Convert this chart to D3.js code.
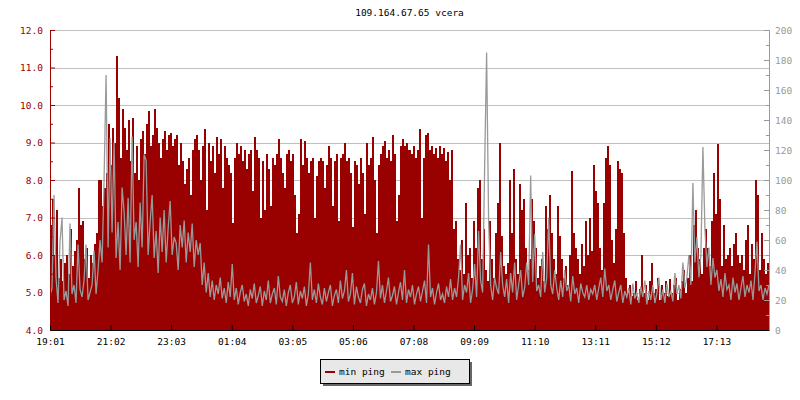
<!DOCTYPE html>
<html><head><meta charset="utf-8">
<script src="https://cdn.jsdelivr.net/npm/d3@7"></script>
<style>
body{margin:0;background:#fff}
svg{display:block}
text{font-family:"DejaVu Sans Mono",monospace;font-size:9.5px}
</style>
</head><body><svg id="c" width="800" height="400"></svg>
<script>
const title = "109.164.67.65 vcera";
const timeLabels = ["19:01","21:02","23:03","01:04","03:05","05:06","07:08","09:09","11:10","13:11","15:12","17:13"];
const tickMinutes = [0,121,242,363,484,605,726,847,968,1089,1210,1331];
const sampleStep = 4; // minutes between samples
const seriesNames = ["min ping","max ping"];
const seriesColors = ["#990000","#999999"];
const leftTicks = [4,5,6,7,8,9,10,11,12];
const leftMinor = [4.5,5.5,6.5,7.5,8.5,9.5,10.5,11.5];
const rightTicks = [0,20,40,60,80,100,120,140,160,180,200];
const rightMinor = [10,30,50,70,90,110,130,150,170,190];

// min ping (left axis)
const minPing = [
6.8,7.5,6.0,7.2,5.4,5.9,5.3,5.8,6.0,5.5,
6.7,5.7,6.1,6.4,7.8,6.8,6.9,5.9,6.2,5.4,
6.0,5.8,6.3,6.6,8.0,8.0,7.3,7.8,8.2,9.5,
8.4,9.4,9.0,11.3,10.2,8.6,9.9,9.4,8.8,9.6,
8.5,9.65,8.2,8.9,8.0,9.1,9.3,8.7,9.5,9.85,
8.9,9.2,9.9,9.4,9.0,8.6,9.1,9.3,8.8,9.2,
9.25,8.9,9.1,9.2,8.4,9.0,8.5,7.9,8.3,8.6,
7.6,8.8,9.1,9.2,8.8,8.0,8.9,9.35,7.2,9.0,
8.5,8.9,8.2,9.15,8.7,9.1,7.8,8.9,8.6,8.4,
8.2,6.85,8.6,9.0,8.7,8.9,8.5,8.8,8.3,8.7,
8.8,7.7,9.15,8.8,8.6,7.0,8.5,7.2,8.7,8.3,
7.3,8.6,8.4,8.7,9.1,8.6,8.2,7.8,8.7,8.8,
8.5,8.7,7.6,6.6,7.1,9.1,8.4,9.05,8.6,8.2,
8.5,8.6,7.0,8.1,8.5,8.6,8.5,7.8,8.4,8.9,
8.6,7.3,8.5,8.7,6.9,8.6,8.7,9.0,8.5,8.6,
8.2,6.75,8.5,8.4,7.9,8.6,8.2,7.1,9.0,8.4,
8.6,9.15,8.0,6.6,8.4,8.7,8.9,9.05,8.6,8.8,
8.5,9.2,8.7,6.9,7.6,8.9,9.1,8.9,9.0,8.8,
8.7,8.9,8.6,8.8,9.35,7.0,8.6,9.2,9.25,8.8,
8.9,8.7,8.85,8.6,8.9,8.7,8.85,8.5,8.75,8.0,
8.8,6.7,6.9,5.9,5.6,6.4,5.5,7.4,6.0,6.2,
5.4,6.9,6.2,7.8,8.0,5.9,6.7,5.6,5.3,6.9,
5.9,5.4,6.6,7.4,9.0,6.5,5.7,5.5,5.8,8.0,
6.6,8.3,5.9,5.5,7.9,7.2,7.5,6.2,5.6,5.9,
7.5,6.9,6.2,5.4,5.7,5.9,5.3,7.3,6.7,7.6,
6.6,5.9,5.5,7.3,6.5,5.9,5.4,5.7,5.2,6.0,
8.25,6.6,6.2,5.9,5.5,6.3,5.7,6.9,6.0,7.0,
6.1,8.4,7.7,7.4,6.2,5.6,7.4,8.6,8.9,8.4,
6.4,5.8,6.7,8.5,8.3,8.2,6.6,5.4,5.0,5.2,
4.9,5.0,5.3,4.8,5.1,6.0,5.0,5.2,4.8,5.3,
5.8,5.0,5.1,5.4,4.8,5.2,5.0,5.3,4.9,5.35,
5.0,5.2,5.4,4.8,5.1,5.3,5.6,5.0,5.4,6.0,
5.3,6.8,7.2,6.2,5.9,5.5,6.2,6.7,6.2,5.7,
6.9,8.2,7.1,8.95,7.5,5.7,6.8,5.9,6.0,6.2,
5.7,6.3,6.6,6.0,5.8,6.0,5.6,6.4,6.8,5.5,
6.3,5.9,8.0,7.6,5.6,6.6,5.9,5.5,5.8,6.0
];

// max ping (right axis)
const maxPing = [
22,28,90,35,18,59,75,20,26,16,
71,24,30,18,57,27,22,33,57,20,
25,30,53,24,40,60,45,100,170,55,
128,65,125,48,72,40,95,79,50,88,
45,129,60,72,42,85,55,117,113,50,
72,90,48,66,38,75,52,80,45,68,
86,50,62,58,40,70,55,73,45,65,
52,71,42,60,50,58,30,45,25,38,
22,33,20,30,24,35,21,28,18,32,
22,44,20,28,17,25,30,19,24,16,
27,21,31,18,23,29,16,26,20,33,
18,24,28,17,36,22,19,27,16,25,
30,18,22,32,17,26,21,29,16,24,
45,20,27,18,31,22,17,28,19,25,
30,16,23,27,18,33,21,26,40,19,
24,38,17,29,22,18,27,31,16,24,
20,28,17,25,46,21,30,18,26,35,
19,23,29,17,25,32,20,40,18,27,
22,30,17,24,29,19,26,33,18,57,
22,28,17,25,31,20,24,18,29,22,
34,20,28,22,35,57,20,30,25,38,
18,27,44,22,66,33,25,107,185,73,
30,20,35,28,24,52,30,22,34,18,
38,25,45,20,30,40,22,28,45,30,
103,32,64,26,30,22,52,25,35,75,
30,24,40,28,20,33,22,40,26,30,
19,36,24,28,18,31,25,22,30,20,
27,24,30,20,28,35,22,41,26,30,
20,27,33,19,25,30,18,26,22,28,
17,31,21,25,18,29,22,33,17,26,
20,30,18,24,35,20,27,18,31,22,
26,19,38,24,30,21,45,28,35,50,
30,98,45,62,35,50,122,68,42,55,
30,48,35,40,26,34,22,38,27,30,
20,35,25,31,20,28,36,22,30,25,
33,20,38,59,26,30,20,28,24,30
];

const svg = d3.select("#c");
const X0 = 50, X1 = 769, Y0 = 330, Y1 = 30;
const x = d3.scaleLinear().domain([0, 1436]).range([X0, X1]);
const yL = d3.scaleLinear().domain([4, 12]).range([Y0, Y1]);
const yR = d3.scaleLinear().domain([0, 200]).range([Y0, Y1]);

// grid
svg.append("g").selectAll("line").data(leftTicks.filter(v => v > 4)).join("line")
  .attr("x1", X0).attr("x2", X1)
  .attr("y1", d => Math.round(yL(d)) + 0.5).attr("y2", d => Math.round(yL(d)) + 0.5)
  .attr("stroke", "#c0c0c0").attr("stroke-width", 1);

svg.append("defs").append("clipPath").attr("id", "clip")
  .append("rect").attr("x", X0).attr("y", Y1 - 5).attr("width", X1 - X0).attr("height", Y0 - Y1 + 5);

const plot = svg.append("g").attr("clip-path", "url(#clip)");

// min ping area (step)
const area = d3.area()
  .x((d, i) => x(i * sampleStep))
  .y0(yL(4))
  .y1(d => yL(d))
  .curve(d3.curveStepAfter);
plot.append("path").datum(minPing.concat([minPing[minPing.length - 1]]))
  .attr("d", area).attr("fill", seriesColors[0]).attr("shape-rendering", "crispEdges");

// max ping line
const line = d3.line()
  .x((d, i) => x(i * sampleStep))
  .y(d => yR(d));
plot.append("path").datum(maxPing)
  .attr("d", line).attr("fill", "none").attr("stroke", seriesColors[1]).attr("stroke-width", 1.3);

// axes
function styleAxis(g, color) {
  g.selectAll("path").attr("stroke", color);
  g.selectAll("line").attr("stroke", color);
  g.selectAll("text").attr("fill", color).style("font-family", "'DejaVu Sans Mono',monospace").style("font-size", "9.5px");
}
const gL = svg.append("g").attr("transform", `translate(${X0},0)`)
  .call(d3.axisLeft(yL).tickValues(leftTicks).tickFormat(d3.format(".1f")).tickSize(-5).tickSizeOuter(0).tickPadding(7));
styleAxis(gL, "#990000");
const gLm = svg.append("g").attr("transform", `translate(${X0},0)`)
  .call(d3.axisLeft(yL).tickValues(leftMinor).tickFormat("").tickSize(-3).tickSizeOuter(0));
styleAxis(gLm, "#990000");

const gR = svg.append("g").attr("transform", `translate(${X1},0)`)
  .call(d3.axisRight(yR).tickValues(rightTicks).tickFormat(d3.format("d")).tickSize(-5).tickSizeOuter(0).tickPadding(6));
styleAxis(gR, "#999999");
const gRm = svg.append("g").attr("transform", `translate(${X1},0)`)
  .call(d3.axisRight(yR).tickValues(rightMinor).tickFormat("").tickSize(-3).tickSizeOuter(0));
styleAxis(gRm, "#999999");

const gX = svg.append("g").attr("transform", `translate(0,${Y0})`)
  .call(d3.axisBottom(x).tickValues(tickMinutes).tickFormat((d, i) => timeLabels[i]).tickSize(-5).tickSizeOuter(0).tickPadding(8));
styleAxis(gX, "#000000");

// title
svg.append("text").attr("x", (X0 + X1) / 2).attr("y", 16).attr("text-anchor", "middle")
  .attr("fill", "#000").text(title);

// legend
const lg = svg.append("g");
lg.append("rect").attr("x", 323).attr("y", 362).attr("width", 149).attr("height", 24).attr("fill", "#666666");
lg.append("rect").attr("x", 320.5).attr("y", 359.5).attr("width", 149).attr("height", 24)
  .attr("fill", "#e8e8e8").attr("stroke", "#000").attr("stroke-width", 1);
const legX = [325, 391];
seriesNames.forEach((name, i) => {
  lg.append("line").attr("x1", legX[i]).attr("x2", legX[i] + 10).attr("y1", 372).attr("y2", 372)
    .attr("stroke", seriesColors[i]).attr("stroke-width", 2);
  lg.append("text").attr("x", legX[i] + 14).attr("y", 375).attr("fill", "#000").text(name);
});
</script>
</body></html>
